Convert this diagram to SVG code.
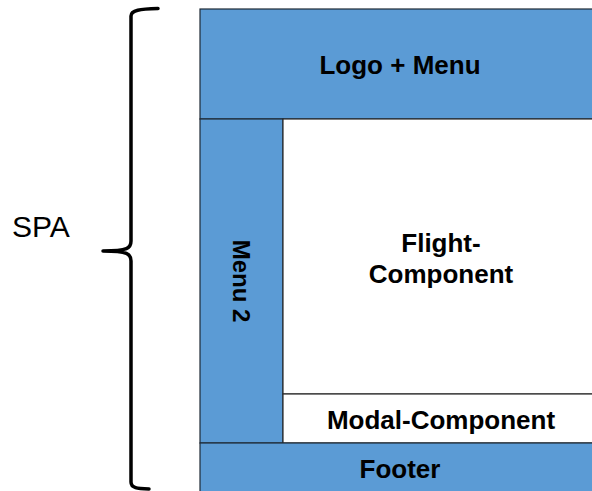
<svg xmlns="http://www.w3.org/2000/svg" width="592" height="491" viewBox="0 0 592 491">
<style>
.blue{fill:#5b9bd5;stroke:#1f2a36;stroke-width:1.2}
.white{fill:#ffffff;stroke:#2a2a2a;stroke-width:1.2}
.lbl{font-family:"Liberation Sans",Arial,sans-serif;font-weight:bold;font-size:26px;fill:#000;text-anchor:middle}
.brace{fill:none;stroke:#000;stroke-width:3.5;stroke-linecap:round;stroke-linejoin:round}
</style>
<rect width="592" height="491" fill="#ffffff"/>
<g id="header">
<rect class="blue" x="200" y="9" width="400" height="110"/>
<text class="lbl" x="400" y="74">Logo + Menu</text>
</g>
<g id="menu2">
<rect class="blue" x="200" y="119" width="83" height="324"/>
<text class="lbl" style="font-size:24px" transform="translate(241.5,281) rotate(90)" x="0" y="8.5">Menu 2</text>
</g>
<g id="flight">
<rect class="white" x="283" y="119" width="317" height="275"/>
<text class="lbl" x="441" y="252">Flight-</text>
<text class="lbl" x="441" y="283">Component</text>
</g>
<g id="modal">
<rect class="white" x="283" y="394" width="317" height="49"/>
<text class="lbl" x="441" y="429">Modal-Component</text>
</g>
<g id="footer">
<rect class="blue" x="200" y="443" width="400" height="60"/>
<text class="lbl" x="400" y="478">Footer</text>
</g>
<g id="connectors">
<path class="brace" d="M158,8.5 C140,9 131,10 131,16 L131,241 C131,248 128,251 103,251 C128,251 131,254 131,261 L131,482 C131,488 137,488.5 149,489"/>
</g>
<g id="spa">
<text x="12" y="237" style="font-family:'Liberation Sans',Arial,sans-serif;font-size:30px;fill:#000">SPA</text>
</g>
</svg>
